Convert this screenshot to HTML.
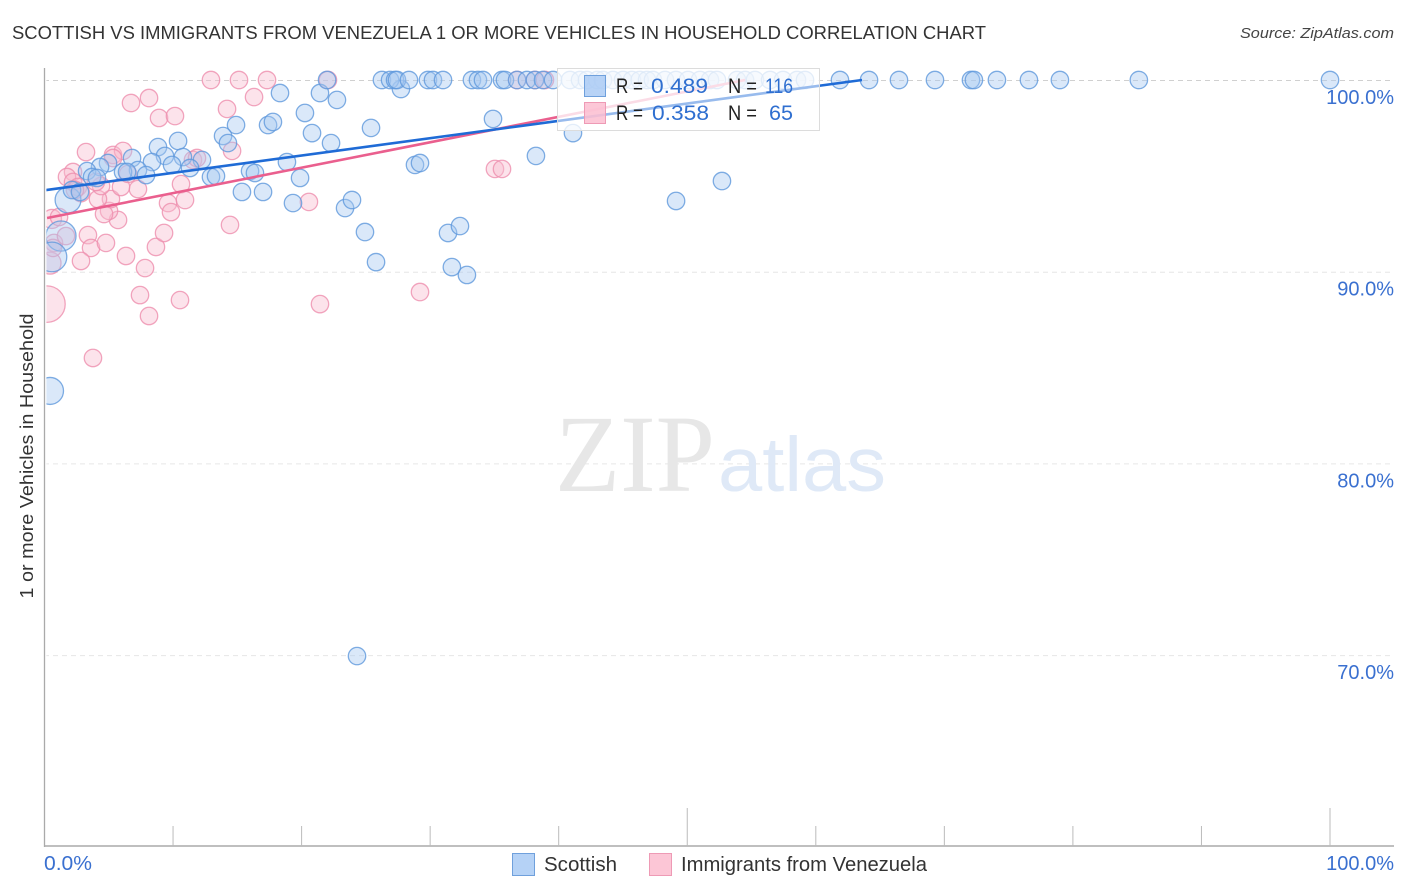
<!DOCTYPE html>
<html>
<head>
<meta charset="utf-8">
<title>Scottish vs Immigrants from Venezuela Correlation Chart</title>
<style>
html,body{margin:0;padding:0;background:#fff;}
svg{display:block;font-family:"Liberation Sans",sans-serif;}
</style>
</head>
<body>
<svg id="chart" width="1406" height="892" viewBox="0 0 1406 892" xmlns="http://www.w3.org/2000/svg">
  <text x="12" y="39" font-size="18.5" fill="#333" textLength="974" lengthAdjust="spacingAndGlyphs">SCOTTISH VS IMMIGRANTS FROM VENEZUELA 1 OR MORE VEHICLES IN HOUSEHOLD CORRELATION CHART</text>
  <text x="1394" y="38" font-size="15" font-style="italic" fill="#444" text-anchor="end" textLength="154" lengthAdjust="spacingAndGlyphs">Source: ZipAtlas.com</text>

  <g id="grid-layer"></g>
  <g>
    <text x="555" y="491" font-family="'Liberation Serif',serif" font-size="110" fill="#e7e7e7" textLength="160" lengthAdjust="spacingAndGlyphs">ZIP</text>
    <text x="718" y="491" font-size="77" fill="#dfe9f7" textLength="168" lengthAdjust="spacingAndGlyphs">atlas</text>
  </g>
  <g id="venezuela-layer"></g>
  <g id="scottish-layer"></g>
  <g id="trend-layer"></g>
  <rect x="0" y="60" width="46.4" height="786" fill="#fff"/>
  <g id="axis-layer"></g>
  <text transform="translate(33,456) rotate(-90)" font-size="18.5" fill="#333" text-anchor="middle" textLength="285" lengthAdjust="spacingAndGlyphs">1 or more Vehicles in Household</text>

  <g id="stats-legend">
    <rect x="557.5" y="68.5" width="262" height="62" fill="#fff" fill-opacity="0.78" stroke="#dcdcdc" stroke-width="1"/>
    <g id="legend-trend-overlay"></g>
    <rect x="584.5" y="75.5" width="21" height="21" fill="#a6c8f4" fill-opacity="0.8" stroke="#6fa0dc"/>
    <rect x="584.5" y="102.5" width="21" height="21" fill="#fbbdd0" fill-opacity="0.85" stroke="#ee9ab5"/>
    <text x="616" y="93" font-size="21" fill="#222" textLength="27" lengthAdjust="spacingAndGlyphs">R =</text>
    <text x="651" y="93" font-size="21" fill="#2f6fd0" textLength="57" lengthAdjust="spacingAndGlyphs">0.489</text>
    <text x="728" y="93" font-size="21" fill="#222" textLength="29" lengthAdjust="spacingAndGlyphs">N =</text>
    <text x="765" y="93" font-size="21" fill="#2f6fd0" textLength="28" lengthAdjust="spacingAndGlyphs">116</text>
    <text x="616" y="120" font-size="21" fill="#222" textLength="27" lengthAdjust="spacingAndGlyphs">R =</text>
    <text x="652" y="120" font-size="21" fill="#2f6fd0" textLength="57" lengthAdjust="spacingAndGlyphs">0.358</text>
    <text x="728" y="120" font-size="21" fill="#222" textLength="29" lengthAdjust="spacingAndGlyphs">N =</text>
    <text x="769" y="120" font-size="21" fill="#2f6fd0" textLength="24" lengthAdjust="spacingAndGlyphs">65</text>
  </g>

  <g>
    <rect x="512.5" y="853.5" width="22" height="22" fill="#b5d2f6" stroke="#6fa0dc"/>
    <text x="544" y="871" font-size="20" fill="#333" textLength="73" lengthAdjust="spacingAndGlyphs">Scottish</text>
    <rect x="649.5" y="853.5" width="22" height="22" fill="#fcc6d6" stroke="#ee9ab5"/>
    <text x="681" y="871" font-size="20" fill="#333" textLength="246" lengthAdjust="spacingAndGlyphs">Immigrants from Venezuela</text>
  </g>
</svg>
<script>
const scottishX = [
  1.83,1.28,0.58,0.43,
  18.32,21.43,22.75,27.73,20.26,17.39,17.77,14.9,20.81,22.29,
  13.89,14.27,25.4,10.39,8.83,9.37,8.36,10.77,9.92,12.25,
  11.32,6.81,4.94,4.32,3.31,7.27,6.11,6.42,7.9,3.7,
  4.08,2.14,2.76,12.95,13.34,15.99,16.37,18.86,19.88,15.36,
  17.0,19.33,23.38,23.92,24.93,25.79,28.82,29.21,34.89,38.23,
  41.11,49.13,52.7,31.39,32.32,31.69,32.86,24.31,
  21.98,26.25,26.88,27.27,27.42,28.35,29.83,30.22,31.0,33.25,
  33.72,34.11,35.59,35.82,36.76,37.53,38.15,38.78,39.56,40.88,
  41.66,42.2,43.0,43.45,44.22,45.0,45.7,46.3,46.87,47.33,
  48.27,49.12,50.06,50.99,51.77,52.31,53.87,54.5,55.27,56.44,
  57.45,58.54,59.16,61.88,64.14,66.47,69.27,72.07,72.3,74.09,
  76.58,78.99,85.13,100
];
const scottishY = [
  93.74,91.86,90.77,83.78,
  99.32,99.32,98.96,99.53,98.28,97.65,97.81,97.65,97.23,96.71,
  97.08,96.71,97.5,96.82,96.5,96.04,95.72,95.98,95.57,95.83,
  95.41,95.93,95.67,95.46,95.25,95.3,95.2,95.2,95.04,94.94,
  94.89,94.26,94.16,94.94,94.99,95.25,95.15,95.72,94.89,94.16,
  94.16,93.58,93.32,93.74,92.07,90.5,95.57,95.67,97.97,96.04,
  97.23,93.69,94.73,92.02,92.38,90.24,89.83,69.95,
  100,100,100,100,100,100,100,100,100,100,
  100,100,100,100,100,100,100,100,100,100,
  100,100,100,100,100,100,100,100,100,100,
  100,100,100,100,100,100,100,100,100,100,
  100,100,100,100,100,100,100,100,100,100,
  100,100,100,100
];
const scottishWeight = [2.2,3.0,2.9,2.4];

const venezuelaX = [
  0.19,0.43,0.58,0.74,0.66,1.13,1.67,3.38,3.62,4.78,
  2.84,6.34,7.82,8.67,9.3,7.43,10.54,8.13,3.77,21.43,
  29.21,35.04,35.59,20.57,14.43,12.95,15.13,17.31,22.05,36.76,
  38.15,38.93,16.3,14.2,6.73,8.13,8.91,10.15,14.59,3.23,
  5.33,6.11,2.22,1.75,11.55,10.62,9.61,10.93,9.84,11.86,
  5.72,5.02,4.63,5.17,4.16,7.27,5.95,4.4,6.5,2.22,
  2.61,2.84,2.37,4.0,5.33
];
const venezuelaY = [
  88.31,90.45,92.75,91.5,91.24,92.85,91.86,91.91,91.24,91.5,
  90.56,90.82,90.19,91.29,92.02,88.78,88.52,87.69,85.5,88.31,
  88.94,95.36,95.36,93.64,92.44,100,100,100,100,100,
  100,100,99.11,98.49,98.8,99.06,98.02,98.12,96.3,96.24,
  96.09,96.3,95.2,94.94,95.83,94.57,93.58,93.74,93.11,95.93,
  92.7,93.17,93.01,93.79,93.79,94.31,94.42,94.47,95.1,94.68,
  94.42,94.1,94.26,94.68,95.93
];
const venezuelaWeight = [4.4,1.6,1.2];

const scottishTrendX = [0.12,63.6];
const scottishTrendY = [94.26,100];
const venezuelaTrendX = [0.2,54.5];
const venezuelaTrendY = [92.8,100];

const xTicks = [0,10,20,30,40,50,60,70,80,90,100];
const xMajorTicks = [50,100];
const xTickLabels = ["0.0%","100.0%"];
const yTicks = [100,90,80,70];
const yTickLabels = ["100.0%","90.0%","80.0%","70.0%"];

const NS = "http://www.w3.org/2000/svg";
const sx = v => 44.5 + v * 12.855;
const sy = v => 80 + (100 - v) * 19.17;
const invX = p => (p - 44.5) / 12.855;
const AXIS_BOTTOM = 846;
const BASE_R = 8.7;

function make(tag, attrs, parent) {
  const el = document.createElementNS(NS, tag);
  for (const k in attrs) el.setAttribute(k, attrs[k]);
  parent.appendChild(el);
  return el;
}

const gridLayer = document.getElementById("grid-layer");
const axisLayer = document.getElementById("axis-layer");

yTicks.forEach((t, i) => {
  const line = make("line", {x1: 44, x2: 1394, y1: sy(t) + 0.5, y2: sy(t) + 0.5, stroke: i === 0 ? "#d0d0d0" : "#e6e6e6", "stroke-dasharray": "5 4"}, gridLayer);
  
  
  const label = make("text", {x: 1394, y: sy(t) + 24, "font-size": 20, fill: "#3a70d0", "text-anchor": "end"}, axisLayer);
  
  
  label.textContent = yTickLabels[i];
});

const yAxisLine = make("line", {x1: 44.5, x2: 44.5, y1: 68, y2: AXIS_BOTTOM + 1, stroke: "#aaa", "stroke-width": 1.3}, axisLayer);


const xAxisLine = make("line", {x1: 44, x2: 1394, y1: AXIS_BOTTOM, y2: AXIS_BOTTOM, stroke: "#aaa", "stroke-width": 1.5}, axisLayer);



xTicks.forEach(t => {
  if (t === 0) return;
  const top = xMajorTicks.includes(t) ? AXIS_BOTTOM - 38 : AXIS_BOTTOM - 20;
  const tick = make("line", {x1: sx(t), x2: sx(t), y1: top, y2: AXIS_BOTTOM, stroke: "#bbb", "stroke-width": 1}, axisLayer);
  
  
});

const xLabelLeft = make("text", {x: 44, y: 870, "font-size": 20, fill: "#3a70d0", textLength: 48, lengthAdjust: "spacingAndGlyphs"}, axisLayer);


xLabelLeft.textContent = xTickLabels[0];
const xLabelRight = make("text", {x: 1394, y: 870, "font-size": 20, fill: "#3a70d0", "text-anchor": "end"}, axisLayer);


xLabelRight.textContent = xTickLabels[1];

const scottishLayer = document.getElementById("scottish-layer");
scottishX.forEach((x, i) => {
  const w = scottishWeight[i] === undefined ? 1 : scottishWeight[i];
  const c = make("circle", {cx: sx(x), cy: sy(scottishY[i]), r: BASE_R * Math.sqrt(w), fill: "#a6c8f0", "fill-opacity": 0.42, stroke: "#5f98dc", "stroke-opacity": 0.8, "stroke-width": 1.3}, scottishLayer);
  
  
});

const venezuelaLayer = document.getElementById("venezuela-layer");
venezuelaX.forEach((x, i) => {
  const w = venezuelaWeight[i] === undefined ? 1 : venezuelaWeight[i];
  const c = make("circle", {cx: sx(x), cy: sy(venezuelaY[i]), r: BASE_R * Math.sqrt(w), fill: "#f9bcd0", "fill-opacity": 0.42, stroke: "#ee8fae", "stroke-opacity": 0.8, "stroke-width": 1.3}, venezuelaLayer);
  
  
});

const trendLayer = document.getElementById("trend-layer");
const venezuelaTrend = make("line", {x1: sx(venezuelaTrendX[0]), y1: sy(venezuelaTrendY[0]), x2: sx(venezuelaTrendX[1]), y2: sy(venezuelaTrendY[1]), stroke: "#ea5f8e", "stroke-width": 2.6}, trendLayer);


const scottishTrend = make("line", {x1: sx(scottishTrendX[0]), y1: sy(scottishTrendY[0]), x2: sx(scottishTrendX[1]), y2: sy(scottishTrendY[1]), stroke: "#1f6bd6", "stroke-width": 2.6}, trendLayer);



const trendAt = v => scottishTrendY[0] + (v - scottishTrendX[0]) * (scottishTrendY[1] - scottishTrendY[0]) / (scottishTrendX[1] - scottishTrendX[0]);
const overlayStart = invX(558);
const overlayEnd = invX(819);
const overlayGroup = document.getElementById("legend-trend-overlay");
const trendOverlay = make("line", {x1: sx(overlayStart), y1: sy(trendAt(overlayStart)), x2: sx(overlayEnd), y2: sy(trendAt(overlayEnd)), stroke: "#1f6bd6", "stroke-opacity": 0.3, "stroke-width": 2.6}, overlayGroup);


</script>
</body>
</html>
